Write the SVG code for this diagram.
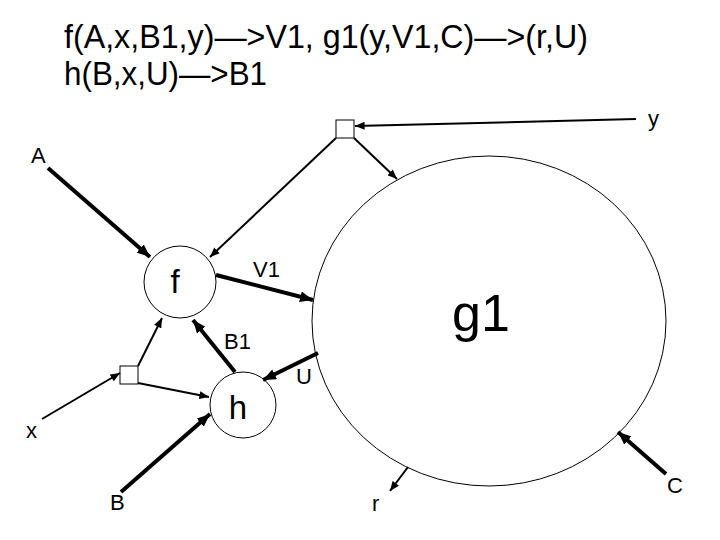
<svg xmlns="http://www.w3.org/2000/svg" width="720" height="540" viewBox="0 0 720 540">
<style>
text { font-family: "Liberation Sans", Arial, sans-serif; fill: #000; }
.lbl { font-size: 22px; }
.node { fill: #fff; stroke: #000; stroke-width: 1; }
.thick { stroke: #000; stroke-width: 4; fill: none; }
.thin { stroke: #000; stroke-width: 2; fill: none; }
</style>
<defs>
<marker id="hk" viewBox="0 0 12 10" markerUnits="userSpaceOnUse" markerWidth="13" markerHeight="11" refX="12" refY="5" orient="auto">
<path d="M0,0 L12,5 L0,10 z" fill="#000"/>
</marker>
<marker id="hs" viewBox="0 0 12 10" markerUnits="userSpaceOnUse" markerWidth="10" markerHeight="8" refX="12" refY="5" orient="auto">
<path d="M0,0 L12,5 L0,10 z" fill="#000"/>
</marker>
</defs>
<rect width="720" height="540" fill="#fff"/>
<g id="title">
<text x="64" y="48" font-size="33" textLength="524" lengthAdjust="spacingAndGlyphs">f(A,x,B1,y)—&gt;V1, g1(y,V1,C)—&gt;(r,U)</text>
<text x="64" y="85" font-size="33" textLength="203" lengthAdjust="spacingAndGlyphs">h(B,x,U)—&gt;B1</text>
</g>
<g id="g1">
<ellipse class="node" cx="489" cy="321" rx="177" ry="165"/>
<text x="452" y="331" font-size="52">g1</text>
</g>
<g id="f">
<circle class="node" cx="180" cy="282" r="36"/>
<text x="175" y="293" font-size="33" text-anchor="middle">f</text>
</g>
<g id="h">
<circle class="node" cx="243" cy="405" r="33"/>
<text x="238" y="419" font-size="33" text-anchor="middle">h</text>
</g>
<g id="boxTop"><rect class="node" x="336" y="120" width="18" height="18"/></g>
<g id="boxLeft"><rect class="node" x="120" y="366" width="18" height="18"/></g>
<g id="connectors">
<line class="thin" x1="636" y1="119" x2="355" y2="126" marker-end="url(#hs)"/>
<line class="thin" stroke-width="2.5" x1="354" y1="138" x2="397" y2="179" marker-end="url(#hs)"/>
<line class="thin" stroke-width="1.6" x1="336" y1="138" x2="210" y2="257" marker-end="url(#hs)"/>
<line class="thick" x1="48" y1="168" x2="150" y2="257" marker-end="url(#hk)"/>
<line class="thick" x1="216" y1="275" x2="313" y2="300" marker-end="url(#hk)"/>
<line class="thick" x1="235" y1="372" x2="193" y2="320" marker-end="url(#hk)"/>
<line class="thin" x1="138" y1="366" x2="162" y2="318" marker-end="url(#hs)"/>
<line class="thin" x1="138" y1="383" x2="209" y2="397" marker-end="url(#hs)"/>
<line class="thin" x1="42" y1="419" x2="120" y2="373" marker-end="url(#hs)"/>
<line class="thick" x1="121" y1="492" x2="210" y2="414" marker-end="url(#hk)"/>
<line class="thick" x1="318" y1="353" x2="263" y2="380" marker-end="url(#hk)"/>
<line class="thin" x1="408" y1="467" x2="390" y2="491" marker-end="url(#hs)"/>
<line class="thick" x1="666" y1="474" x2="618" y2="432" marker-end="url(#hk)"/>
</g>
<g id="labels">
<text class="lbl" x="648" y="126">y</text>
<text class="lbl" x="31" y="163">A</text>
<text class="lbl" x="253" y="277">V1</text>
<text class="lbl" x="224" y="349">B1</text>
<text class="lbl" x="296" y="384">U</text>
<text class="lbl" x="26" y="438">x</text>
<text class="lbl" x="110" y="510">B</text>
<text class="lbl" x="372" y="511">r</text>
<text class="lbl" x="667" y="493">C</text>
</g>
</svg>
